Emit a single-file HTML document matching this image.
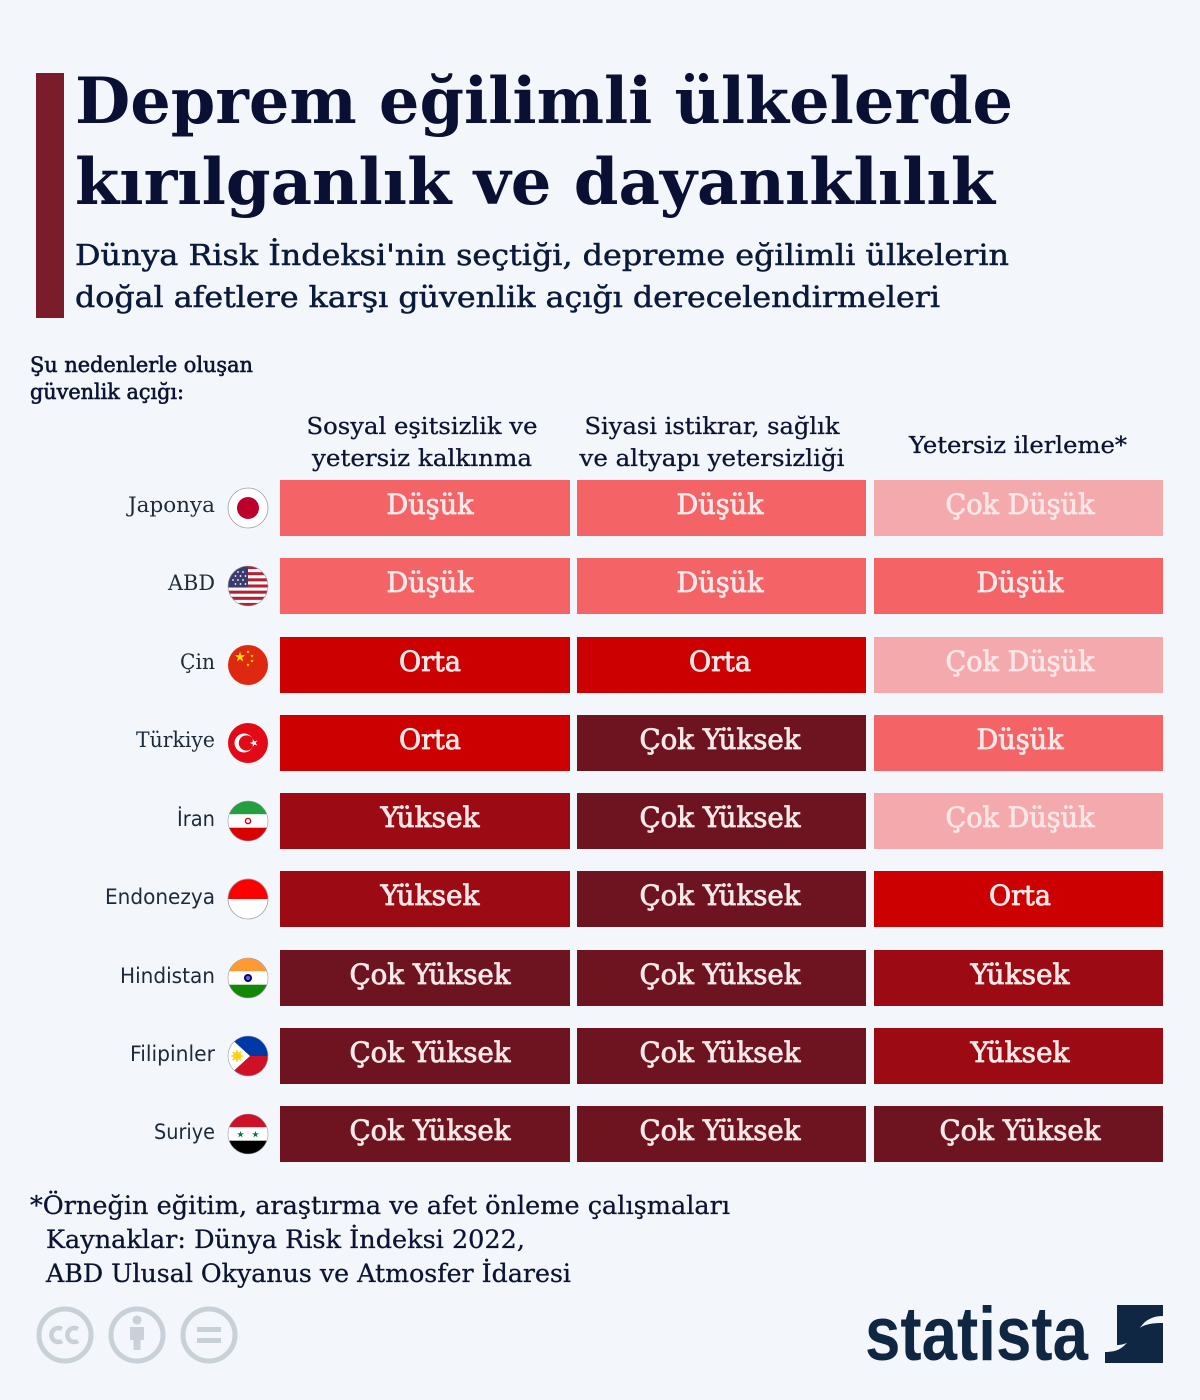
<!DOCTYPE html>
<html><head><meta charset="utf-8"><style>
html,body{margin:0;padding:0;background:#f3f6fa;}
svg{display:block;}
.t{font-family:"DejaVu Serif","Liberation Serif",serif;}
.s{font-family:"DejaVu Sans","Liberation Sans",sans-serif;}
</style></head><body>
<svg width="1200" height="1400" viewBox="0 0 1200 1400" xmlns="http://www.w3.org/2000/svg">
<defs>
<path id="star" d="M0,-1 L0.2245,-0.309 L0.951,-0.309 L0.363,0.118 L0.588,0.809 L0,0.382 L-0.588,0.809 L-0.363,0.118 L-0.951,-0.309 L-0.2245,-0.309 Z"/>
<clipPath id="fc"><circle cx="0" cy="0" r="20"/></clipPath>
</defs>
<rect width="1200" height="1400" fill="#f3f6fa"/>
<rect x="36" y="73" width="28" height="245" fill="#7b1c2b"/>

<g class="t" fill="#0a1033" font-weight="bold" font-size="64">
<text x="75" y="123" textLength="938" lengthAdjust="spacingAndGlyphs">Deprem eğilimli ülkelerde</text>
<text x="75" y="204" textLength="920" lengthAdjust="spacingAndGlyphs">kırılganlık ve dayanıklılık</text>
</g>
<g class="t" fill="#0b1a3a" font-size="29" stroke="#0b1a3a" stroke-width="0.5">
<text x="75" y="265" textLength="934" lengthAdjust="spacingAndGlyphs">Dünya Risk İndeksi'nin seçtiği, depreme eğilimli ülkelerin</text>
<text x="75" y="307" textLength="865" lengthAdjust="spacingAndGlyphs">doğal afetlere karşı güvenlik açığı derecelendirmeleri</text>
</g>

<g class="t" fill="#0b1533" font-size="21" stroke="#0b1533" stroke-width="0.6">
<text x="30" y="372" textLength="223" lengthAdjust="spacingAndGlyphs">Şu nedenlerle oluşan</text>
<text x="30" y="399" textLength="154" lengthAdjust="spacingAndGlyphs">güvenlik açığı:</text>
</g>

<g class="t" fill="#0b1533" font-size="23" text-anchor="middle" stroke="#0b1533" stroke-width="0.3">
<text x="422" y="434" textLength="231" lengthAdjust="spacingAndGlyphs">Sosyal eşitsizlik ve</text>
<text x="422" y="466" textLength="220" lengthAdjust="spacingAndGlyphs">yetersiz kalkınma</text>
<text x="712" y="434" textLength="255" lengthAdjust="spacingAndGlyphs">Siyasi istikrar, sağlık</text>
<text x="712" y="466" textLength="265" lengthAdjust="spacingAndGlyphs">ve altyapı yetersizliği</text>
<text x="1018" y="453" textLength="218" lengthAdjust="spacingAndGlyphs">Yetersiz ilerleme*</text>
</g>

<!-- cells -->
<g>
<rect x="280" y="480" width="290" height="56" fill="#f46466"/>
<rect x="577" y="480" width="289" height="56" fill="#f46466"/>
<rect x="874" y="480" width="289" height="56" fill="#f4a9ad"/>
<rect x="280" y="558" width="290" height="56" fill="#f46466"/>
<rect x="577" y="558" width="289" height="56" fill="#f46466"/>
<rect x="874" y="558" width="289" height="56" fill="#f46466"/>
<rect x="280" y="637" width="290" height="56" fill="#cc0000"/>
<rect x="577" y="637" width="289" height="56" fill="#cc0000"/>
<rect x="874" y="637" width="289" height="56" fill="#f4a9ad"/>
<rect x="280" y="715" width="290" height="56" fill="#cc0000"/>
<rect x="577" y="715" width="289" height="56" fill="#6d1420"/>
<rect x="874" y="715" width="289" height="56" fill="#f46466"/>
<rect x="280" y="793" width="290" height="56" fill="#9c0b13"/>
<rect x="577" y="793" width="289" height="56" fill="#6d1420"/>
<rect x="874" y="793" width="289" height="56" fill="#f4a9ad"/>
<rect x="280" y="871" width="290" height="56" fill="#9c0b13"/>
<rect x="577" y="871" width="289" height="56" fill="#6d1420"/>
<rect x="874" y="871" width="289" height="56" fill="#cc0000"/>
<rect x="280" y="950" width="290" height="56" fill="#6d1420"/>
<rect x="577" y="950" width="289" height="56" fill="#6d1420"/>
<rect x="874" y="950" width="289" height="56" fill="#9c0b13"/>
<rect x="280" y="1028" width="290" height="56" fill="#6d1420"/>
<rect x="577" y="1028" width="289" height="56" fill="#6d1420"/>
<rect x="874" y="1028" width="289" height="56" fill="#9c0b13"/>
<rect x="280" y="1106" width="290" height="56" fill="#6d1420"/>
<rect x="577" y="1106" width="289" height="56" fill="#6d1420"/>
<rect x="874" y="1106" width="289" height="56" fill="#6d1420"/>
</g>

<g class="t" font-size="28" text-anchor="middle" fill="#fbe9e9" stroke="#fbe9e9" stroke-width="0.8">
<text x="430" y="514" textLength="87" lengthAdjust="spacingAndGlyphs">Düşük</text>
<text x="720" y="514" textLength="87" lengthAdjust="spacingAndGlyphs">Düşük</text>
<text x="1020" y="514" textLength="149" lengthAdjust="spacingAndGlyphs" fill="#fce6e7" stroke="#fce6e7">Çok Düşük</text>

<text x="430" y="592" textLength="87" lengthAdjust="spacingAndGlyphs">Düşük</text>
<text x="720" y="592" textLength="87" lengthAdjust="spacingAndGlyphs">Düşük</text>
<text x="1020" y="592" textLength="87" lengthAdjust="spacingAndGlyphs">Düşük</text>

<text x="430" y="671" textLength="62" lengthAdjust="spacingAndGlyphs">Orta</text>
<text x="720" y="671" textLength="62" lengthAdjust="spacingAndGlyphs">Orta</text>
<text x="1020" y="671" textLength="149" lengthAdjust="spacingAndGlyphs" fill="#fce6e7" stroke="#fce6e7">Çok Düşük</text>

<text x="430" y="749" textLength="62" lengthAdjust="spacingAndGlyphs">Orta</text>
<text x="720" y="749" textLength="161" lengthAdjust="spacingAndGlyphs">Çok Yüksek</text>
<text x="1020" y="749" textLength="87" lengthAdjust="spacingAndGlyphs">Düşük</text>

<text x="430" y="827" textLength="99" lengthAdjust="spacingAndGlyphs">Yüksek</text>
<text x="720" y="827" textLength="161" lengthAdjust="spacingAndGlyphs">Çok Yüksek</text>
<text x="1020" y="827" textLength="149" lengthAdjust="spacingAndGlyphs" fill="#fce6e7" stroke="#fce6e7">Çok Düşük</text>

<text x="430" y="905" textLength="99" lengthAdjust="spacingAndGlyphs">Yüksek</text>
<text x="720" y="905" textLength="161" lengthAdjust="spacingAndGlyphs">Çok Yüksek</text>
<text x="1020" y="905" textLength="62" lengthAdjust="spacingAndGlyphs">Orta</text>

<text x="430" y="984" textLength="161" lengthAdjust="spacingAndGlyphs">Çok Yüksek</text>
<text x="720" y="984" textLength="161" lengthAdjust="spacingAndGlyphs">Çok Yüksek</text>
<text x="1020" y="984" textLength="99" lengthAdjust="spacingAndGlyphs">Yüksek</text>

<text x="430" y="1062" textLength="161" lengthAdjust="spacingAndGlyphs">Çok Yüksek</text>
<text x="720" y="1062" textLength="161" lengthAdjust="spacingAndGlyphs">Çok Yüksek</text>
<text x="1020" y="1062" textLength="99" lengthAdjust="spacingAndGlyphs">Yüksek</text>

<text x="430" y="1140" textLength="161" lengthAdjust="spacingAndGlyphs">Çok Yüksek</text>
<text x="720" y="1140" textLength="161" lengthAdjust="spacingAndGlyphs">Çok Yüksek</text>
<text x="1020" y="1140" textLength="161" lengthAdjust="spacingAndGlyphs">Çok Yüksek</text>
</g>

<!-- country labels -->
<g font-size="21" text-anchor="end" fill="#1c2a3a">
<text class="t" x="215" y="512" textLength="87" lengthAdjust="spacingAndGlyphs">Japonya</text>
<text class="t" x="215" y="590" textLength="47" lengthAdjust="spacingAndGlyphs">ABD</text>
<text class="t" x="215" y="669" textLength="35" lengthAdjust="spacingAndGlyphs">Çin</text>
<text class="t" x="215" y="747" textLength="79" lengthAdjust="spacingAndGlyphs">Türkiye</text>
<text class="s" x="215" y="826" textLength="38" lengthAdjust="spacingAndGlyphs">İran</text>
<text class="s" x="215" y="904" textLength="110" lengthAdjust="spacingAndGlyphs">Endonezya</text>
<text class="s" x="215" y="983" textLength="95" lengthAdjust="spacingAndGlyphs">Hindistan</text>
<text class="s" x="215" y="1061" textLength="85" lengthAdjust="spacingAndGlyphs">Filipinler</text>
<text class="s" x="215" y="1139" textLength="61" lengthAdjust="spacingAndGlyphs">Suriye</text>
</g>

<!-- Japan -->
<g transform="translate(248,508)">
<circle r="20" fill="#fff" stroke="#9aa0a6" stroke-width="0.8"/>
<circle r="11" fill="#bc002d"/>
</g>
<!-- USA -->
<g transform="translate(248,586)">
<g clip-path="url(#fc)">
<rect x="-20" y="-20" width="40" height="40" fill="#fff"/>
<rect x="-20" y="-20" width="40" height="3.08" fill="#b22234"/>
<rect x="-20" y="-13.85" width="40" height="3.08" fill="#b22234"/>
<rect x="-20" y="-7.7" width="40" height="3.08" fill="#b22234"/>
<rect x="-20" y="-1.54" width="40" height="3.08" fill="#b22234"/>
<rect x="-20" y="4.62" width="40" height="3.08" fill="#b22234"/>
<rect x="-20" y="10.77" width="40" height="3.08" fill="#b22234"/>
<rect x="-20" y="16.92" width="40" height="3.08" fill="#b22234"/>
<rect x="-20" y="-20" width="20" height="21.5" fill="#3c3b6e"/>
<g fill="#fff">
<circle cx="-15" cy="-14" r="0.9"/><circle cx="-10" cy="-14" r="0.9"/><circle cx="-5" cy="-14" r="0.9"/>
<circle cx="-12.5" cy="-10" r="0.9"/><circle cx="-7.5" cy="-10" r="0.9"/><circle cx="-2.5" cy="-10" r="0.9"/>
<circle cx="-15" cy="-6" r="0.9"/><circle cx="-10" cy="-6" r="0.9"/><circle cx="-5" cy="-6" r="0.9"/>
<circle cx="-12.5" cy="-2" r="0.9"/><circle cx="-7.5" cy="-2" r="0.9"/><circle cx="-2.5" cy="-2" r="0.9"/>
</g>
</g>
<circle r="20" fill="none" stroke="#9aa0a6" stroke-width="0.6"/>
</g>
<!-- China -->
<g transform="translate(248,665)">
<circle r="20" fill="#de2910"/>
<g fill="#ffde00">
<use href="#star" transform="translate(-8,-8) scale(5.5)"/>
<use href="#star" transform="translate(0,-13) scale(1.9)"/>
<use href="#star" transform="translate(4,-9) scale(1.9)"/>
<use href="#star" transform="translate(4,-4) scale(1.9)"/>
<use href="#star" transform="translate(0,0) scale(1.9)"/>
</g>
</g>
<!-- Turkey -->
<g transform="translate(248,743)">
<circle r="20" fill="#e30a17"/>
<circle cx="-4" cy="0" r="9.5" fill="#fff"/>
<circle cx="-1.6" cy="0" r="7.6" fill="#e30a17"/>
<use href="#star" fill="#fff" transform="translate(6,0) rotate(-90) scale(4.2)"/>
</g>
<!-- Iran -->
<g transform="translate(248,821)">
<g clip-path="url(#fc)">
<rect x="-20" y="-20" width="40" height="13.3" fill="#239f40"/>
<rect x="-20" y="-6.7" width="40" height="13.4" fill="#fff"/>
<rect x="-20" y="6.7" width="40" height="13.3" fill="#da0000"/>
<circle cx="0" cy="0" r="2.6" fill="none" stroke="#da0000" stroke-width="1.4"/>
</g>
<circle r="20" fill="none" stroke="#9aa0a6" stroke-width="0.6"/>
</g>
<!-- Indonesia -->
<g transform="translate(248,899)">
<g clip-path="url(#fc)">
<rect x="-20" y="-20" width="40" height="20" fill="#ff0000"/>
<rect x="-20" y="0" width="40" height="20" fill="#fff"/>
</g>
<circle r="20" fill="none" stroke="#9aa0a6" stroke-width="0.8"/>
</g>
<!-- India -->
<g transform="translate(248,978)">
<g clip-path="url(#fc)">
<rect x="-20" y="-20" width="40" height="13.3" fill="#ff9933"/>
<rect x="-20" y="-6.7" width="40" height="13.4" fill="#fff"/>
<rect x="-20" y="6.7" width="40" height="13.3" fill="#138808"/>
<circle cx="0" cy="0" r="4" fill="#000080"/>
<circle cx="0" cy="0" r="2" fill="#6b6bc0"/>
</g>
<circle r="20" fill="none" stroke="#9aa0a6" stroke-width="0.6"/>
</g>
<!-- Philippines -->
<g transform="translate(248,1056)">
<g clip-path="url(#fc)">
<rect x="-20" y="-20" width="40" height="20" fill="#0038a8"/>
<rect x="-20" y="0" width="40" height="20" fill="#ce1126"/>
<polygon points="-22,-22 -22,22 2,0" fill="#fff"/>
<circle cx="-11" cy="0" r="4" fill="#fcd116"/>
<g stroke="#fcd116" stroke-width="1.5">
<line x1="-17" y1="0" x2="-5" y2="0"/><line x1="-11" y1="-6" x2="-11" y2="6"/>
<line x1="-15.2" y1="-4.2" x2="-6.8" y2="4.2"/><line x1="-15.2" y1="4.2" x2="-6.8" y2="-4.2"/>
</g>
</g>
<circle r="20" fill="none" stroke="#9aa0a6" stroke-width="0.6"/>
</g>
<!-- Syria -->
<g transform="translate(248,1134)">
<g clip-path="url(#fc)">
<rect x="-20" y="-20" width="40" height="13.3" fill="#ce1126"/>
<rect x="-20" y="-6.7" width="40" height="13.4" fill="#fff"/>
<rect x="-20" y="6.7" width="40" height="13.3" fill="#000"/>
<use href="#star" fill="#007a3d" transform="translate(-7.5,0.5) scale(3.6)"/>
<use href="#star" fill="#007a3d" transform="translate(7.5,0.5) scale(3.6)"/>
</g>
<circle r="20" fill="none" stroke="#9aa0a6" stroke-width="0.6"/>
</g>

<!-- footnote -->
<g class="t" fill="#0b1533" font-size="25" stroke="#0b1533" stroke-width="0.3">
<text x="30" y="1214" textLength="700" lengthAdjust="spacingAndGlyphs">*Örneğin eğitim, araştırma ve afet önleme çalışmaları</text>
<text x="46" y="1248" textLength="479" lengthAdjust="spacingAndGlyphs">Kaynaklar: Dünya Risk İndeksi 2022,</text>
<text x="46" y="1282" textLength="525" lengthAdjust="spacingAndGlyphs">ABD Ulusal Okyanus ve Atmosfer İdaresi</text>
</g>

<!-- CC icons -->
<g fill="none" stroke="#c8d0d8" stroke-width="5">
<circle cx="65" cy="1335" r="26"/>
<circle cx="137" cy="1335" r="26"/>
<circle cx="209" cy="1335" r="26"/>
<path d="M62,1329 A7,7 0 1 0 62,1341" stroke-width="4.5"/>
<path d="M78,1329 A7,7 0 1 0 78,1341" stroke-width="4.5"/>
</g>
<g fill="#c8d0d8">
<circle cx="137" cy="1320" r="4.5"/>
<rect x="130" y="1327" width="14" height="13"/>
<rect x="133.5" y="1338" width="7" height="12"/>
<rect x="197" y="1327" width="24" height="5"/>
<rect x="197" y="1338" width="24" height="5"/>
</g>

<!-- statista logo -->
<text x="865" y="1360" font-family="'Liberation Sans Narrow','Liberation Sans',sans-serif" font-weight="bold" font-size="76" fill="#0f2742" textLength="223" lengthAdjust="spacingAndGlyphs">statista</text>
<path d="M1117,1305 H1163 V1316 C1150,1316 1143,1322 1137,1332 C1131,1342 1125,1345 1117,1345 Z" fill="#0f2742"/>
<path d="M1105,1352 C1118,1352 1124,1348 1131,1337 C1138,1326 1146,1323 1163,1323 V1363 H1105 Z" fill="#0f2742"/>
</svg>
</body></html>
